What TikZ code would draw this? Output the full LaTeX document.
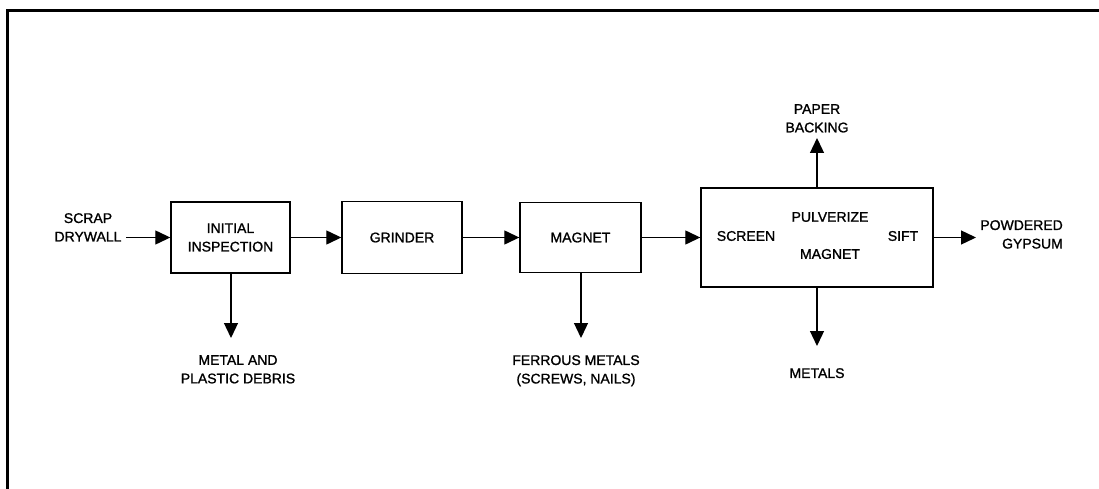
\documentclass[tikz,border=0pt]{standalone}
\usepackage{fontspec}
\setmainfont{Liberation Sans}[BoldFont={Liberation Sans},BoldFeatures={FakeBold=1.2}]
\usetikzlibrary{arrows.meta}
\begin{document}
\begin{tikzpicture}[x=1pt,y=-1pt,
  lbl/.style={inner sep=0pt,font={\fontsize{14}{18.5}\selectfont\bfseries},align=center},
  procbox/.style={draw,line width=1.4pt,inner sep=0pt,align=center,font={\fontsize{14}{18.5}\selectfont\bfseries}},
  flow/.style={line width=1.3pt,-{Triangle[length=15pt,width=14pt]}},
  frameline/.style={line width=3pt}]
\useasboundingbox (0,0) rectangle (1099,489);
% frame
\coordinate (fTL) at (7.5,11);
\coordinate (fTR) at (1099,11);
\coordinate (fBL) at (7.5,489);
\draw[frameline] (fTR) -- (fTL) -- (fBL);
% boxes
\node[procbox,minimum width=119pt,minimum height=71pt] (init) at (230.5,237.5) {INITIAL\\INSPECTION};
\node[procbox,minimum width=120pt,minimum height=72pt] (grind) at (402,237.5) {GRINDER};
\node[procbox,minimum width=121pt,minimum height=70pt] (mag) at (580.5,237.5) {MAGNET};
\node[procbox,minimum width=232pt,minimum height=99pt] (big) at (817,237.5) {};
\node[lbl] (pulv) at (830,217) {PULVERIZE};
\node[lbl] (scr) at (746,236) {SCREEN};
\node[lbl] (mag2) at (830,254) {MAGNET};
\node[lbl] (sift) at (903,236) {SIFT};
% labels
\node[lbl,anchor=north] (scrap) at (88,213) {SCRAP\\DRYWALL};
\node[lbl,anchor=north] (debris) at (238,355) {METAL AND\\PLASTIC DEBRIS};
\node[lbl,anchor=north] (ferr) at (576,355) {FERROUS METALS\\(SCREWS, NAILS)};
\node[lbl,anchor=north] (metals) at (817,368) {METALS};
\node[lbl,anchor=north] (paper) at (817,104) {PAPER\\BACKING};
\node[lbl,anchor=north east,align=right] (gyp) at (1063,220) {POWDERED\\GYPSUM};
% connector ends
\coordinate (sIn) at (126,237.5);
\coordinate (dEnd) at (231,338);
\coordinate (fEnd) at (581,338);
\coordinate (mEnd) at (817,346);
\coordinate (pEnd) at (817,138);
\coordinate (gEnd) at (976,237.5);
% flows
\draw[flow] (sIn) -- (init.west);
\draw[flow] (init.east) -- (grind.west);
\draw[flow] (grind.east) -- (mag.west);
\draw[flow] (mag.east) -- (big.west);
\draw[flow] (big.east) -- (gEnd);
\draw[flow] (init.south -| dEnd) -- (dEnd);
\draw[flow] (mag.south -| fEnd) -- (fEnd);
\draw[flow] (big.south) -- (mEnd);
\draw[flow] (big.north) -- (pEnd);
\end{tikzpicture}
\end{document}
